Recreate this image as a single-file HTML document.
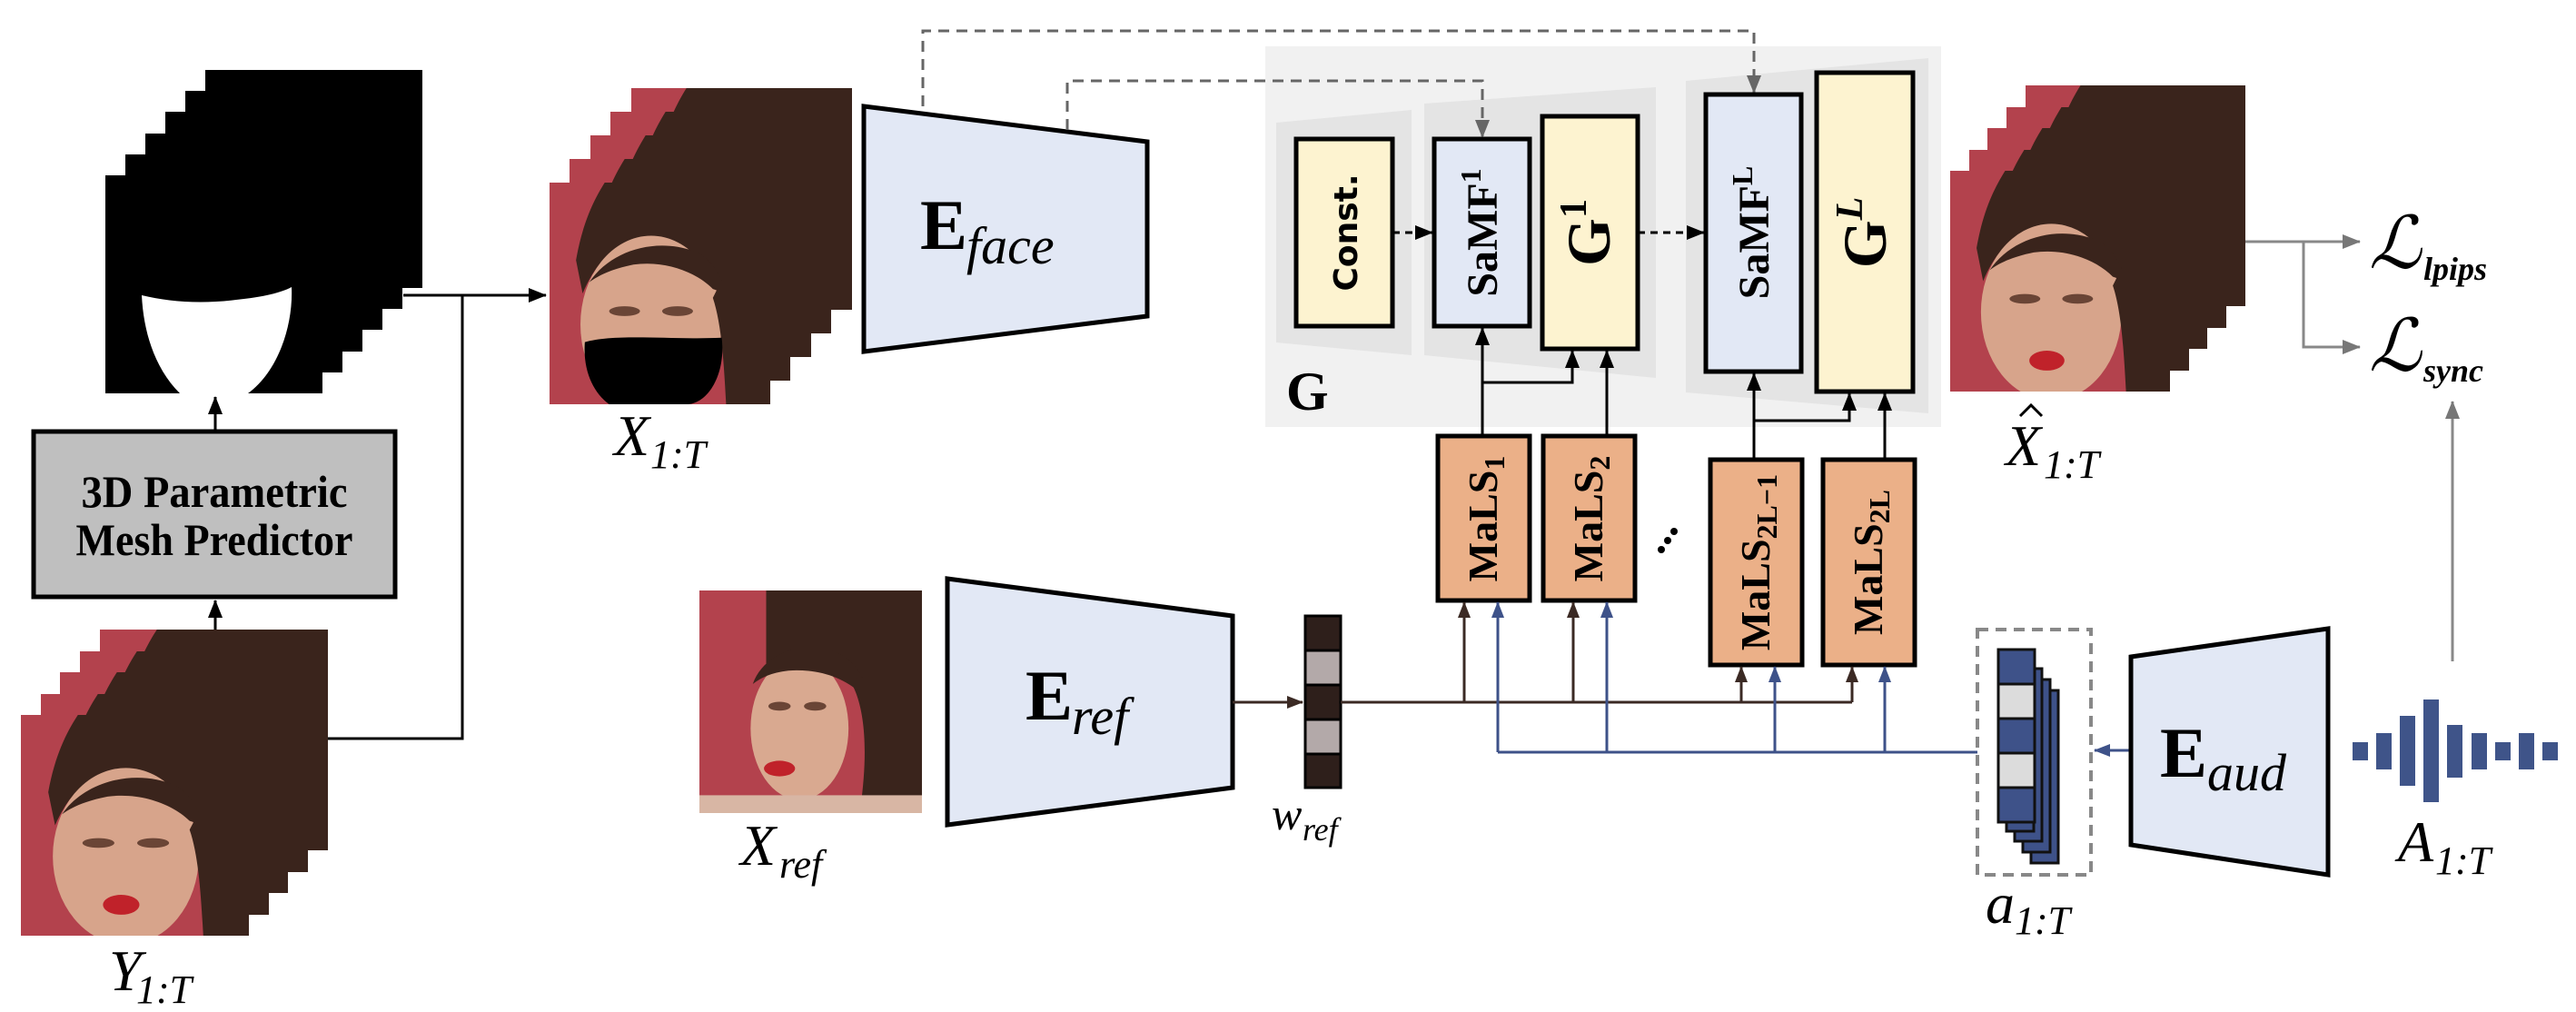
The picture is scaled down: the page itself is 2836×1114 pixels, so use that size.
<!DOCTYPE html>
<html><head><meta charset="utf-8"><style>
html,body{margin:0;padding:0;background:#fff;}
svg{display:block;}
.mi{font-family:"Liberation Serif",serif;font-style:italic;}
.bs{font-family:"Liberation Serif",serif;font-weight:bold;}
</style></head><body>
<svg width="2836" height="1114" viewBox="0 0 2836 1114" xmlns="http://www.w3.org/2000/svg">
<defs>
<symbol id="face" viewBox="0 0 100 100" preserveAspectRatio="none">
<rect width="100" height="100" fill="#b3424d"/>
<path d="M25 0 H100 V100 H82 L80 55 C75 35 55 24 40 26 C28 28 20 38 15 50 L12 35 C15 18 20 8 25 0 Z" fill="#3a241c"/>
<ellipse cx="46" cy="64" rx="32" ry="40" fill="#d7a48b"/>
<path d="M18 45 C28 30 50 24 68 32 C74 36 78 42 80 50 L74 48 C66 40 52 35 38 37 C28 39 22 42 18 45 Z" fill="#3a241c"/>
<path d="M78 44 C86 58 86 80 88 100 H80 C79 82 78 64 74 52 Z" fill="#3a241c"/>
<ellipse cx="34" cy="58" rx="7" ry="2.2" fill="#6a4536"/>
<ellipse cx="58" cy="58" rx="7" ry="2.2" fill="#6a4536"/>
<ellipse cx="44" cy="86" rx="8" ry="4.5" fill="#c0222a"/>
</symbol>
<symbol id="maskface" viewBox="0 0 100 100" preserveAspectRatio="none">
<use href="#face" width="100" height="100"/>
<path d="M16 72 C30 68 55 71 78 70 C80 86 72 100 62 100 H27 C20 95 15 85 16 72 Z" fill="#000"/>
</symbol>
<symbol id="reff" viewBox="0 0 100 100" preserveAspectRatio="none">
<rect width="100" height="100" fill="#b3424d"/>
<path d="M30 0 H100 V100 H72 C78 60 72 35 55 30 C42 28 34 35 30 45 Z" fill="#3a241c"/>
<ellipse cx="45" cy="62" rx="22" ry="32" fill="#d9a990"/>
<path d="M24 42 C30 25 55 20 68 32 C74 38 76 45 76 50 C68 40 55 35 40 36 C32 37 28 39 24 42 Z" fill="#3a241c"/>
<path d="M66 40 C80 50 80 70 76 90 L90 90 C95 70 92 50 80 38 Z" fill="#3a241c"/>
<ellipse cx="36" cy="52" rx="5" ry="2" fill="#6a4536"/>
<ellipse cx="52" cy="52" rx="5" ry="2" fill="#6a4536"/>
<ellipse cx="36" cy="80" rx="7" ry="3.5" fill="#c0222a"/>
<rect x="0" y="92" width="100" height="8" fill="#d8b6a4"/>
</symbol>
<marker id="ab" markerWidth="18" markerHeight="18" refX="17" refY="9" orient="auto" markerUnits="userSpaceOnUse" viewBox="0 0 18 18"><path d="M0 2 L18 9 L0 16 Z" fill="#3b2a24"/></marker>
<marker id="abl" markerWidth="18" markerHeight="18" refX="17" refY="9" orient="auto" markerUnits="userSpaceOnUse" viewBox="0 0 18 18"><path d="M0 2 L18 9 L0 16 Z" fill="#3e5289"/></marker>
<marker id="ag" markerWidth="20" markerHeight="20" refX="19" refY="10" orient="auto" markerUnits="userSpaceOnUse" viewBox="0 0 20 20"><path d="M0 2 L20 10 L0 18 Z" fill="#777"/></marker>
<marker id="ad" markerWidth="20" markerHeight="20" refX="19" refY="10" orient="auto" markerUnits="userSpaceOnUse" viewBox="0 0 20 20"><path d="M0 2 L20 10 L0 18 Z" fill="#000"/></marker>
<marker id="adg" markerWidth="20" markerHeight="20" refX="19" refY="10" orient="auto" markerUnits="userSpaceOnUse" viewBox="0 0 20 20"><path d="M0 2 L20 10 L0 18 Z" fill="#666"/></marker>
</defs>

<!-- Mask stack -->
<g fill="#000">
<rect x="226" y="77" width="239" height="240"/>
<rect x="204" y="100" width="239" height="240"/>
<rect x="182" y="123" width="239" height="240"/>
<rect x="160" y="147" width="239" height="240"/>
<rect x="138" y="170" width="239" height="240"/>
<rect x="116" y="193" width="239" height="240"/>
</g>
<path d="M156 325 C185 332 220 335 260 330 C290 327 310 322 321 316 C323 360 305 410 273 433 H198 C170 405 158 365 156 325 Z" fill="#fff"/>

<!-- Gray box -->
<rect x="37" y="475" width="398" height="182" fill="#bfbfbf" stroke="#000" stroke-width="5"/>
<text x="236" y="558" text-anchor="middle" class="bs" font-size="50" textLength="293" lengthAdjust="spacingAndGlyphs">3D Parametric</text>
<text x="236" y="611" text-anchor="middle" class="bs" font-size="50" textLength="305" lengthAdjust="spacingAndGlyphs">Mesh Predictor</text>
<line x1="237" y1="475" x2="237" y2="437" stroke="#000" stroke-width="3" marker-end="url(#ad)"/>
<line x1="237" y1="693" x2="237" y2="661" stroke="#000" stroke-width="3" marker-end="url(#ad)"/>

<!-- Y stack -->
<use href="#face" x="110" y="693" width="251" height="243"/>
<use href="#face" x="88" y="717" width="251" height="243"/>
<use href="#face" x="66" y="740" width="251" height="243"/>
<use href="#face" x="45" y="764" width="251" height="243"/>
<use href="#face" x="23" y="787" width="251" height="243"/>
<text x="120" y="1090" class="mi" font-size="64">Y</text><text x="150" y="1104" class="mi" font-size="44">1:T</text>

<!-- connectors to X -->
<polyline points="361,813 509,813 509,325" fill="none" stroke="#000" stroke-width="3"/>
<line x1="444" y1="325" x2="601" y2="325" stroke="#000" stroke-width="3" marker-end="url(#ad)"/>

<!-- X stack -->
<use href="#maskface" x="695" y="97" width="243" height="244"/>
<use href="#maskface" x="672" y="123" width="243" height="244"/>
<use href="#maskface" x="650" y="149" width="243" height="244"/>
<use href="#maskface" x="627" y="175" width="243" height="244"/>
<use href="#maskface" x="605" y="201" width="243" height="244"/>
<text x="676" y="501" class="mi" font-size="64">X</text><text x="716" y="515" class="mi" font-size="44">1:T</text>

<!-- E_face -->
<polygon points="951,117 1263,156 1263,348 951,387" fill="#e2e8f5" stroke="#000" stroke-width="5"/>
<text x="1013" y="274" class="bs" font-size="78">E</text><text x="1064" y="290" class="mi" font-size="58">face</text>

<!-- G region -->
<rect x="1393" y="51" width="744" height="419" fill="#f1f1f1"/>
<polygon points="1405,135 1554,121 1554,391 1405,377" fill="#e4e4e4"/>
<polygon points="1568,114 1823,96 1823,416 1568,391" fill="#e4e4e4"/>
<polygon points="1856,89 2123,64 2123,455 1856,432" fill="#e4e4e4"/>
<text x="1416" y="451" class="bs" font-size="60">G</text>

<!-- dashed top lines -->
<polyline points="1016,117 1016,34 1931,34 1931,102" fill="none" stroke="#666" stroke-width="3" stroke-dasharray="12,8" marker-end="url(#adg)"/>
<polyline points="1175,143 1175,89 1632,89 1632,151" fill="none" stroke="#666" stroke-width="3" stroke-dasharray="12,8" marker-end="url(#adg)"/>

<!-- G boxes -->
<rect x="1427" y="153" width="106" height="206" fill="#fdf3d0" stroke="#000" stroke-width="5"/>
<rect x="1579" y="153" width="105" height="206" fill="#e2e8f5" stroke="#000" stroke-width="5"/>
<rect x="1698" y="128" width="105" height="256" fill="#fdf3d0" stroke="#000" stroke-width="5"/>
<rect x="1878" y="104" width="105" height="305" fill="#e2e8f5" stroke="#000" stroke-width="5"/>
<rect x="2000" y="80" width="106" height="351" fill="#fdf3d0" stroke="#000" stroke-width="5"/>
<text transform="translate(1494,256) rotate(-90)" text-anchor="middle" font-family="DejaVu Sans, sans-serif" font-weight="bold" font-size="36">Const.</text>
<text transform="translate(1648,256) rotate(-90)" text-anchor="middle" class="bs" font-size="48">SaMF<tspan font-size="32" dy="-18">1</tspan></text>
<text transform="translate(1772,256) rotate(-90)" text-anchor="middle" class="bs" font-size="68">G<tspan font-size="42" dy="-26">1</tspan></text>
<text transform="translate(1947,256) rotate(-90)" text-anchor="middle" class="bs" font-size="48">SaMF<tspan font-size="32" dy="-18">L</tspan></text>
<text transform="translate(2076,256) rotate(-90)" text-anchor="middle" class="bs" font-size="68">G<tspan font-size="42" dy="-26" font-style="italic">L</tspan></text>
<line x1="1533" y1="256" x2="1577" y2="256" stroke="#000" stroke-width="3" stroke-dasharray="8,6" marker-end="url(#ad)"/>
<line x1="1803" y1="256" x2="1876" y2="256" stroke="#000" stroke-width="3" stroke-dasharray="8,6" marker-end="url(#ad)"/>

<!-- MaLS boxes -->
<g fill="#ebb088" stroke="#000" stroke-width="5">
<rect x="1583" y="480" width="101" height="181"/>
<rect x="1699" y="480" width="101" height="181"/>
<rect x="1883" y="506" width="101" height="226"/>
<rect x="2007" y="506" width="101" height="226"/>
</g>
<text transform="translate(1648,571) rotate(-90)" text-anchor="middle" class="bs" font-size="46">MaLS<tspan font-size="32" dy="8">1</tspan></text>
<text transform="translate(1764,571) rotate(-90)" text-anchor="middle" class="bs" font-size="46">MaLS<tspan font-size="32" dy="8">2</tspan></text>
<text transform="translate(1948,619) rotate(-90)" text-anchor="middle" class="bs" font-size="46">MaLS<tspan font-size="32" dy="8">2L−1</tspan></text>
<text transform="translate(2072,619) rotate(-90)" text-anchor="middle" class="bs" font-size="46">MaLS<tspan font-size="32" dy="8">2L</tspan></text>
<g fill="#000"><circle cx="1829" cy="605" r="4"/><circle cx="1836" cy="595" r="4"/><circle cx="1843" cy="585" r="4"/></g>

<!-- MaLS to G connectors -->
<g stroke="#000" stroke-width="3" fill="none">
<line x1="1632" y1="480" x2="1632" y2="361" marker-end="url(#ad)"/>
<polyline points="1632,421 1731,421 1731,386" marker-end="url(#ad)"/>
<line x1="1769" y1="480" x2="1769" y2="386" marker-end="url(#ad)"/>
<line x1="1931" y1="506" x2="1931" y2="411" marker-end="url(#ad)"/>
<polyline points="1931,463 2036,463 2036,433" marker-end="url(#ad)"/>
<line x1="2075" y1="506" x2="2075" y2="433" marker-end="url(#ad)"/>
</g>

<!-- X_ref -->
<use href="#reff" x="770" y="650" width="245" height="245"/>
<text x="815" y="952" class="mi" font-size="64">X</text><text x="858" y="966" class="mi" font-size="44">ref</text>

<!-- E_ref -->
<polygon points="1043,637 1357,678 1357,867 1043,908" fill="#e2e8f5" stroke="#000" stroke-width="5"/>
<text x="1129" y="792" class="bs" font-size="78">E</text><text x="1180" y="808" class="mi" font-size="58">ref</text>

<!-- w_ref -->
<line x1="1357" y1="773" x2="1434" y2="773" stroke="#3b2a24" stroke-width="3" marker-end="url(#ab)"/>
<g stroke="#000" stroke-width="3">
<rect x="1437" y="678" width="39" height="38" fill="#2e1f1b"/>
<rect x="1437" y="716" width="39" height="38" fill="#b3a9a9"/>
<rect x="1437" y="754" width="39" height="38" fill="#2e1f1b"/>
<rect x="1437" y="792" width="39" height="38" fill="#b3a9a9"/>
<rect x="1437" y="830" width="39" height="37" fill="#2e1f1b"/>
</g>
<text x="1400" y="913" class="mi" font-size="50">w</text><text x="1434" y="925" class="mi" font-size="36">ref</text>

<!-- brown lines -->
<g stroke="#3b2a24" stroke-width="3" fill="none">
<line x1="1476" y1="773" x2="2039" y2="773"/>
<line x1="1612" y1="773" x2="1612" y2="663" marker-end="url(#ab)"/>
<line x1="1732" y1="773" x2="1732" y2="663" marker-end="url(#ab)"/>
<line x1="1917" y1="773" x2="1917" y2="734" marker-end="url(#ab)"/>
<line x1="2039" y1="773" x2="2039" y2="734" marker-end="url(#ab)"/>
</g>
<g stroke="#3e5289" stroke-width="3" fill="none">
<line x1="1649" y1="828" x2="2177" y2="828"/>
<line x1="1649" y1="828" x2="1649" y2="663" marker-end="url(#abl)"/>
<line x1="1769" y1="828" x2="1769" y2="663" marker-end="url(#abl)"/>
<line x1="1954" y1="828" x2="1954" y2="734" marker-end="url(#abl)"/>
<line x1="2075" y1="828" x2="2075" y2="734" marker-end="url(#abl)"/>
<line x1="2346" y1="826" x2="2306" y2="826" marker-end="url(#abl)"/>
</g>

<!-- a stack -->
<rect x="2177" y="693" width="125" height="270" fill="none" stroke="#888" stroke-width="4" stroke-dasharray="12,8"/>
<g stroke="#111" stroke-width="3">
<rect x="2236" y="760" width="30" height="190" fill="#3e5289"/>
<rect x="2227" y="748" width="30" height="190" fill="#3e5289"/>
<rect x="2218" y="736" width="30" height="190" fill="#3e5289"/>
<rect x="2209" y="725" width="30" height="190" fill="#3e5289"/>
<rect x="2200" y="715" width="40" height="38" fill="#3e5289"/>
<rect x="2200" y="753" width="40" height="38" fill="#dcdcdc"/>
<rect x="2200" y="791" width="40" height="38" fill="#3e5289"/>
<rect x="2200" y="829" width="40" height="38" fill="#dcdcdc"/>
<rect x="2200" y="867" width="40" height="38" fill="#3e5289"/>
</g>
<text x="2186" y="1016" class="mi" font-size="64">a</text><text x="2218" y="1028" class="mi" font-size="44">1:T</text>

<!-- E_aud -->
<polygon points="2346,723 2563,692 2563,963 2346,930" fill="#e2e8f5" stroke="#000" stroke-width="5"/>
<text x="2378" y="855" class="bs" font-size="78">E</text><text x="2430" y="870" class="mi" font-size="58">aud</text>

<!-- waveform -->
<g fill="#3f5489">
<rect x="2590" y="817" width="17" height="20"/>
<rect x="2616" y="807" width="17" height="40"/>
<rect x="2642" y="788" width="17" height="77"/>
<rect x="2668" y="770" width="17" height="113"/>
<rect x="2694" y="798" width="17" height="58"/>
<rect x="2721" y="807" width="17" height="40"/>
<rect x="2747" y="817" width="17" height="20"/>
<rect x="2773" y="807" width="17" height="40"/>
<rect x="2799" y="817" width="17" height="20"/>
</g>
<text x="2640" y="948" class="mi" font-size="64">A</text><text x="2681" y="962" class="mi" font-size="44">1:T</text>

<!-- X hat stack -->
<use href="#face" x="2230" y="94" width="242" height="243"/>
<use href="#face" x="2209" y="118" width="242" height="243"/>
<use href="#face" x="2188" y="141" width="242" height="243"/>
<use href="#face" x="2168" y="165" width="242" height="243"/>
<use href="#face" x="2147" y="188" width="242" height="243"/>
<text x="2208" y="512" class="mi" font-size="64">X</text>
<polyline points="2224,458 2236,446 2248,458" fill="none" stroke="#000" stroke-width="3"/>
<text x="2250" y="526" class="mi" font-size="44">1:T</text>

<!-- losses -->
<g stroke="#888" stroke-width="3" fill="none">
<line x1="2472" y1="266" x2="2598" y2="266" marker-end="url(#ag)"/>
<polyline points="2536,266 2536,382 2598,382" marker-end="url(#ag)"/>
<line x1="2700" y1="728" x2="2700" y2="442" marker-end="url(#ag)"/>
</g>
<text x="2608" y="295" font-family="Liberation Serif,serif" font-style="italic" font-size="80">ℒ</text><text x="2668" y="308" class="mi" font-weight="bold" font-size="36">lpips</text>
<text x="2608" y="408" font-family="Liberation Serif,serif" font-style="italic" font-size="80">ℒ</text><text x="2668" y="420" class="mi" font-weight="bold" font-size="36">sync</text>
</svg>
</body></html>
